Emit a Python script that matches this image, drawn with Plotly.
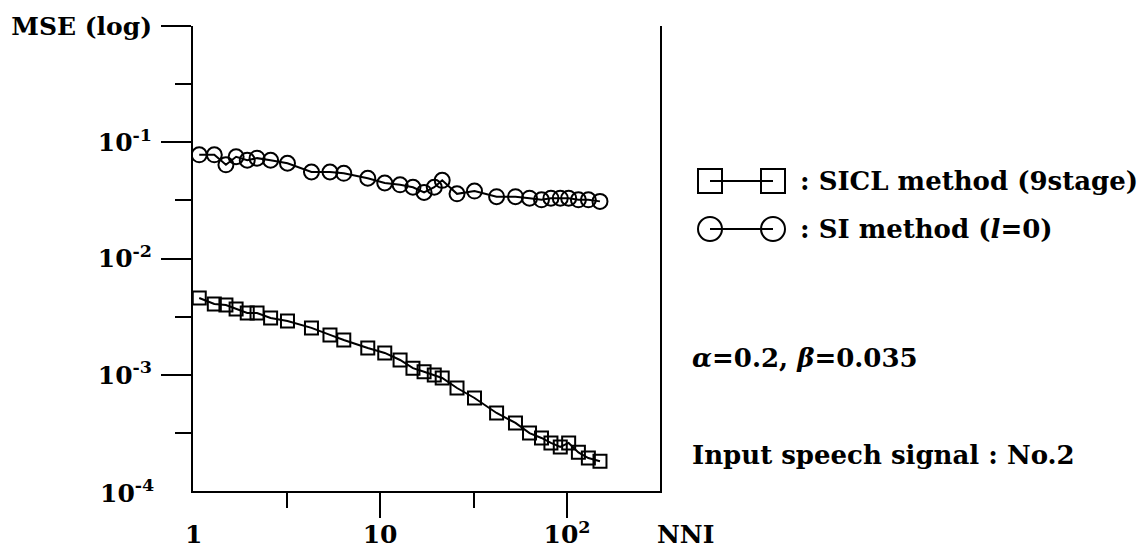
import plotly.graph_objects as go

# NNI values (x) shared by both methods
nni = [1.08, 1.3, 1.5, 1.7, 1.95, 2.2, 2.6, 3.2, 4.3, 5.4, 6.4, 8.6, 10.6, 12.8, 15,
       17.2, 19.5, 21.5, 25.8, 32, 42, 53, 63, 73, 82, 92, 102, 115, 130, 150]

# SICL method (9stage) - squares
mse_sicl = [0.00457, 0.00406, 0.00398, 0.00368, 0.00340, 0.00340, 0.00308, 0.00290,
            0.00253, 0.00220, 0.00199, 0.00170, 0.00154, 0.00134, 0.00114, 0.00106,
            0.000995, 0.000938, 0.000769, 0.000631, 0.000469, 0.000385, 0.000315,
            0.000286, 0.000259, 0.000239, 0.000259, 0.000215, 0.000192, 0.000180]

# SI method (l=0) - circles
mse_si = [0.078, 0.078, 0.064, 0.075, 0.070, 0.073, 0.070, 0.066, 0.0555, 0.0555,
          0.054, 0.049, 0.0446, 0.043, 0.041, 0.037, 0.041, 0.047, 0.036, 0.038,
          0.034, 0.034, 0.033, 0.032, 0.033, 0.033, 0.033, 0.032, 0.032, 0.031]

ytick_vals = [1, 0.1, 0.01, 0.001]
ytick_text = ["MSE (log)", "10<sup>-1</sup>", "10<sup>-2</sup>", "10<sup>-3</sup>"]
xtick_vals = [10, 100]
xtick_text = ["10", "10<sup>2</sup>"]

FONT = "DejaVu Serif"
WIN_W, WIN_H = 1147, 552
OFF = 8  # page body margin, the figure starts 8px in
L, R, T, B = 193, 660, 26, 491  # plot box in window pixels


def px(x):
    return (x - L) / (R - L)


def py(y):
    return (B - y) / (B - T)


fig = go.Figure()
fig.add_trace(go.Scatter(
    x=nni, y=mse_sicl, mode='lines+markers', name='SICL method (9stage)',
    line=dict(color='black', width=2),
    marker=dict(symbol='square-open', size=13, color='black', line=dict(width=2))
))
fig.add_trace(go.Scatter(
    x=nni, y=mse_si, mode='lines+markers', name='SI method (l=0)',
    line=dict(color='black', width=2),
    marker=dict(symbol='circle-open', size=15, color='black', line=dict(width=2))
))

tickfont = dict(family=FONT, size=25, color='black', weight='bold')

fig.update_xaxes(
    type='log', range=[0, 2.497], showgrid=False, zeroline=False, automargin=False,
    showline=True, linecolor='black', linewidth=2,
    ticks='outside', ticklen=25, tickwidth=2, tickcolor='black',
    tickvals=xtick_vals, ticktext=xtick_text, ticklabelstandoff=-5,
    tickfont=tickfont,
    minor=dict(tickvals=[10 ** 0.5, 10 ** 1.5], ticks='outside', ticklen=15,
               tickwidth=2, tickcolor='black', showgrid=False),
)
fig.update_yaxes(
    type='log', range=[-4, 0], showgrid=False, zeroline=False, automargin=False,
    showline=True, linecolor='black', linewidth=2, mirror=True,
    ticks='outside', ticklen=30, tickwidth=2, tickcolor='black',
    tickvals=ytick_vals, ticktext=ytick_text, ticklabelstandoff=4,
    tickfont=tickfont,
    minor=dict(tickvals=[10 ** -0.5, 10 ** -1.5, 10 ** -2.5, 10 ** -3.5],
               ticks='outside', ticklen=16, tickwidth=2, tickcolor='black',
               showgrid=False),
)

txt = dict(family=FONT, size=26, color='black', weight='bold')
ann = [
    dict(x=0, y=-4, xref='x', yref='y', text="10<sup>-4</sup>", showarrow=False,
         xanchor='right', yanchor='middle', xshift=-37, font=tickfont),
    dict(x=0, y=0, xref='x', yref='paper', text="1", showarrow=False,
         xanchor='center', yanchor='top', yshift=-27, font=tickfont),
    dict(x=px(655), y=0, xref='paper', yref='paper', text="NNI", showarrow=False,
         xanchor='left', yanchor='top', yshift=-27, font=tickfont),
    dict(x=px(798), y=py(181), xref='paper', yref='paper', text=": SICL method (9stage)",
         showarrow=False, xanchor='left', yanchor='middle', font=txt),
    dict(x=px(798), y=py(229), xref='paper', yref='paper', text=": SI method (<i>l</i>=0)",
         showarrow=False, xanchor='left', yanchor='middle', font=txt),
    dict(x=px(690), y=py(358), xref='paper', yref='paper',
         text="<i>α</i>=0.2, <i>β</i>=0.035",
         showarrow=False, xanchor='left', yanchor='middle', font=txt),
    dict(x=px(690), y=py(455), xref='paper', yref='paper', text="Input speech signal : No.2",
         showarrow=False, xanchor='left', yanchor='middle', font=txt),
]

# legend symbols drawn by hand: marker - line - marker
shapes = []
for cy, kind in [(181, 'rect'), (229, 'circle')]:
    shapes.append(dict(type='line', xref='paper', yref='paper',
                       x0=px(710), x1=px(773), y0=py(cy), y1=py(cy),
                       line=dict(color='black', width=2)))
    for cx in (710, 773):
        shapes.append(dict(type=kind, xref='paper', yref='paper',
                           x0=px(cx - 12), x1=px(cx + 12), y0=py(cy - 12), y1=py(cy + 12),
                           line=dict(color='black', width=2), fillcolor='rgba(0,0,0,0)'))

fig.update_layout(
    width=WIN_W - OFF, height=WIN_H - OFF,
    margin=dict(l=L - OFF, r=WIN_W - R, t=T - OFF, b=WIN_H - B),
    paper_bgcolor='white', plot_bgcolor='white', showlegend=False,
    annotations=ann, shapes=shapes,
    font=dict(family=FONT, color='black'),
)

fig.write_html("out.html")
